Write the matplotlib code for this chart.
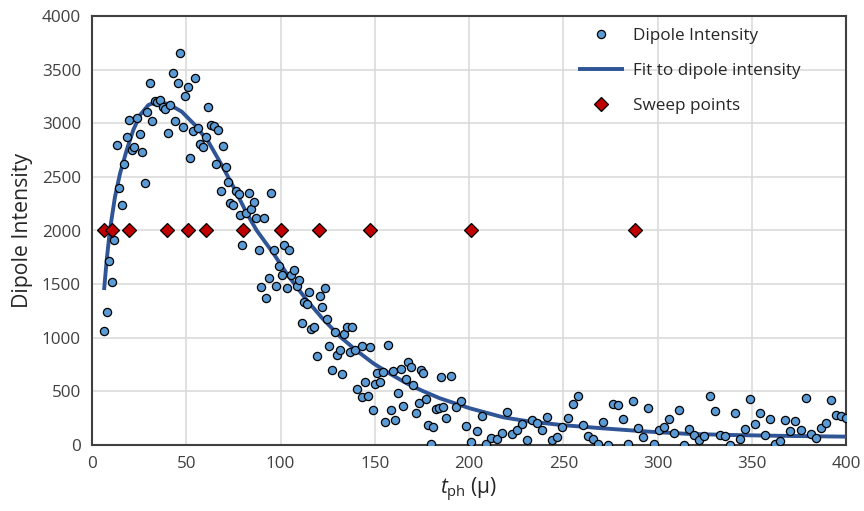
import matplotlib
matplotlib.use("Agg")
import matplotlib.pyplot as plt

# measured dipole intensity vs t_ph
dipole_t = [
    6.4, 7.8, 9.2, 10.4, 11.8, 13.3, 14.5, 15.9, 17.0, 18.4,
    19.8, 21.0, 22.5, 24.0, 25.3, 26.7, 28.0, 29.4, 30.8, 32.0,
    33.3, 34.6, 36.1, 37.5, 38.9, 40.1, 41.4, 42.8, 44.2, 45.4,
    46.7, 48.3, 49.5, 50.8, 52.2, 53.6, 54.8, 56.4, 57.5, 59.1,
    60.3, 61.5, 63.0, 64.6, 65.6, 67.0, 68.3, 69.7, 70.9, 72.3,
    73.4, 75.0, 76.4, 77.8, 78.5, 79.5, 81.7, 83.3, 84.4, 85.8,
    87.0, 88.4, 89.8, 91.1, 92.5, 93.9, 95.1, 96.4, 97.8, 99.4,
    100.6, 101.9, 103.3, 104.7, 105.6, 107.3, 108.6, 110.0, 111.2, 112.5,
    114.2, 115.3, 116.2, 118.0, 119.4, 120.7, 122.0, 123.6, 124.8, 125.9,
    127.3, 128.8, 130.1, 131.4, 132.8, 133.8, 135.1, 136.7, 138.1, 139.7,
    140.6, 143.1, 143.4, 145.0, 146.4, 147.5, 149.1, 150.0, 151.2, 152.8,
    154.4, 155.6, 157.0, 158.5, 159.5, 160.9, 162.5, 163.8, 165.0, 166.6,
    167.8, 169.1, 170.5, 171.7, 173.3, 174.4, 175.8, 177.2, 178.4, 179.8,
    181.1, 182.3, 183.9, 185.1, 186.4, 188.0, 190.5, 193.1, 195.9, 198.6,
    201.2, 204.1, 206.7, 209.2, 211.8, 214.7, 217.5, 220.0, 223.0, 225.7,
    228.1, 230.6, 233.4, 236.2, 238.9, 241.5, 244.2, 246.9, 249.5, 252.4,
    255.0, 257.7, 260.3, 263.0, 265.6, 268.3, 271.1, 273.7, 276.6, 279.2,
    281.9, 284.5, 287.2, 289.8, 292.5, 295.1, 298.0, 300.6, 303.3, 306.1,
    308.8, 311.4, 314.1, 316.6, 319.5, 322.2, 324.8, 327.7, 330.3, 333.0,
    335.6, 338.3, 341.1, 343.8, 346.4, 349.1, 351.7, 354.4, 357.2, 359.7,
    362.5, 365.1, 367.8, 370.4, 373.1, 375.9, 378.6, 381.2, 383.9, 386.7,
    389.2, 392.0, 394.6, 397.3, 400.0,
]
dipole_val = [
    1066, 1243, 1716, 1517, 1911, 2794, 2400, 2241, 2620, 2875,
    3027, 2750, 2781, 3052, 2900, 2735, 2440, 3101, 3378, 3021,
    3207, 3195, 3217, 3149, 3130, 2906, 3170, 3471, 3021, 3375,
    3658, 2968, 3257, 3341, 2676, 2931, 3425, 2958, 2807, 2781,
    2869, 3149, 2984, 2974, 2617, 2937, 2371, 2791, 2595, 2452,
    2259, 2235, 2371, 2337, 2145, 1865, 2166, 2347, 2197, 2263,
    2120, 1815, 1476, 2120, 1374, 1554, 2347, 1815, 1483, 1672,
    1585, 1865, 1461, 1815, 1585, 1629, 1483, 1539, 1135, 1331,
    1312, 1430, 1082, 1103, 833, 1389, 1290, 1467, 1175, 923,
    696, 1051, 836, 886, 662, 1035, 1103, 864, 1103, 883,
    522, 450, 926, 584, 454, 911, 323, 569, 674, 585,
    678, 211, 932, 323, 687, 233, 488, 709, 364, 615,
    777, 730, 559, 301, 394, 699, 674, 429, 186, 6,
    171, 333, 342, 637, 351, 252, 646, 351, 413, 174,
    28, 131, 270, 6, 68, 53, 115, 311, 100, 140,
    196, 47, 233, 202, 140, 258, 47, 78, 171, 249,
    382, 460, 186, 84, 53, 12, 212, 0, 379, 373,
    246, 6, 413, 155, 78, 342, 5, 140, 168, 246,
    109, 326, 0, 150, 96, 47, 84, 457, 317, 93,
    87, 0, 301, 53, 152, 426, 196, 301, 96, 242,
    9, 40, 233, 128, 221, 137, 441, 105, 62, 159,
    205, 417, 283, 268, 255,
]

# fitted curve
fit_t = [
    6.4, 7.8, 9.5, 12.2, 14.9, 18.4, 21.9, 25.5, 29.9, 34.3,
    40.5, 47.6, 54.6, 61.7, 68.8, 75.9, 82.1, 87.4, 96.2, 104.0,
    113.9, 122.0, 131.6, 140.0, 149.2, 158.0, 166.9, 175.0, 184.6, 200.5,
    218.2, 232.4, 250.0, 271.3, 295.0, 317.0, 340.0, 360.0, 380.0, 400.0,
]
fit_val = [
    1445, 1725, 2005, 2315, 2533, 2750, 2937, 3077, 3170, 3201,
    3180, 3108, 2984, 2828, 2611, 2378, 2160, 2000, 1787, 1580,
    1352, 1185, 1010, 885, 762, 665, 575, 507, 435, 342,
    258, 218, 185, 155, 125, 103, 93, 87, 82, 78,
]

# sweep points
sweep_t = [6.4, 10.8, 19.6, 40.0, 50.8, 60.3, 80.3, 100.3, 120.4, 147.5, 201.2, 288.0]
sweep_val = [2000] * len(sweep_t)

x_ticks = list(range(0, 401, 50))
y_ticks = list(range(0, 4001, 500))

plt.rcParams["font.family"] = ["Open Sans", "DejaVu Sans"]
plt.rcParams["mathtext.fontset"] = "custom"
plt.rcParams["mathtext.rm"] = "Open Sans"
plt.rcParams["mathtext.it"] = "Open Sans:italic"

fig = plt.figure(figsize=(8.64, 5.11), dpi=100)
ax = fig.add_axes([92 / 864, 66 / 511, 754 / 864, 429 / 511])

ax.plot(fit_t, fit_val, color="#2F5597", linewidth=2.8, zorder=3,
        label="Fit to dipole intensity", solid_capstyle="butt")
ax.plot(dipole_t, dipole_val, linestyle="none", marker="o", markersize=5.9,
        markerfacecolor="#5B9BD5", markeredgecolor="black", markeredgewidth=0.9,
        zorder=4, label="Dipole Intensity")
ax.plot(sweep_t, sweep_val, linestyle="none", marker="D", markersize=7.2,
        markerfacecolor="#C00000", markeredgecolor="black", markeredgewidth=0.9,
        zorder=5, label="Sweep points")

ax.set_xlim(0, 400)
ax.set_ylim(0, 4000)
ax.set_xticks(x_ticks)
ax.set_yticks(y_ticks)
ax.grid(True, color="#D9D9D9", linewidth=1.1, zorder=0)
ax.set_axisbelow(True)
ax.tick_params(length=0, labelsize=12.3, labelcolor="#404040")
ax.tick_params(axis="y", pad=8)
ax.tick_params(axis="x", pad=8)
for sp in ax.spines.values():
    sp.set_color("#404040")
    sp.set_linewidth(1.5)

ax.set_ylabel("Dipole Intensity", fontsize=15.3, color="#262626", labelpad=6)
ax.set_xlabel(r"$t_{\mathrm{ph}}$ (μ)", fontsize=15, color="#262626", labelpad=3)

h, l = ax.get_legend_handles_labels()
order = [1, 0, 2]
ax.legend([h[i] for i in order], [l[i] for i in order],
          loc="upper left", bbox_to_anchor=(0.645, 0.972), frameon=False,
          fontsize=12.3, labelspacing=1.1, handlelength=2.65, handletextpad=0.55,
          borderpad=0, borderaxespad=0, labelcolor="#262626")

fig.savefig("out.png", dpi=100)
